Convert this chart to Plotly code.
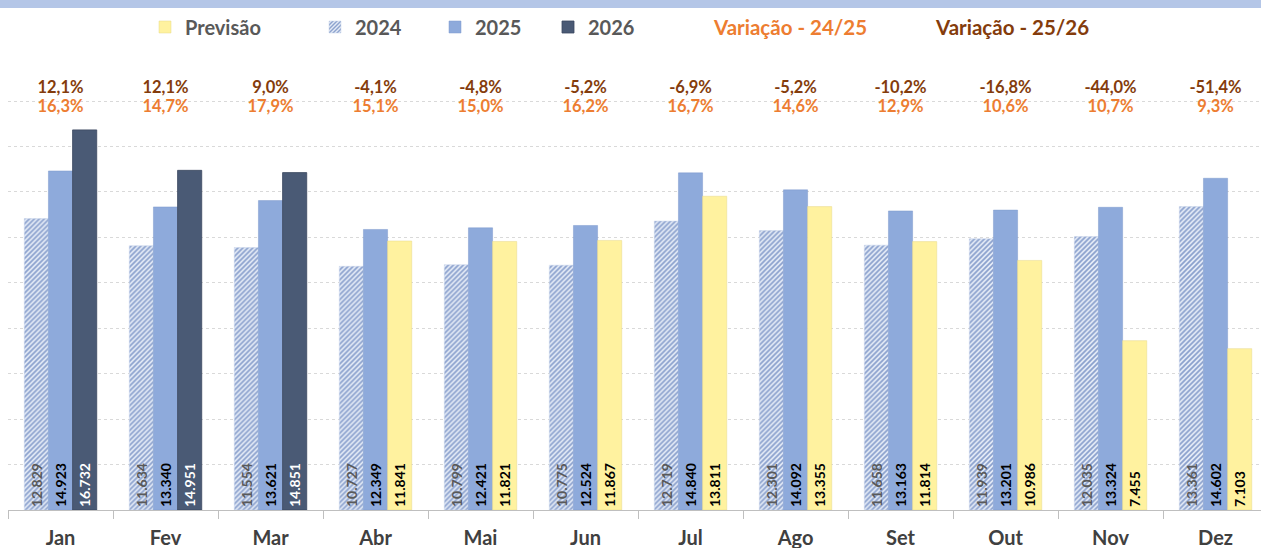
import plotly.graph_objects as go

months = ["Jan", "Fev", "Mar", "Abr", "Mai", "Jun", "Jul", "Ago", "Set", "Out", "Nov", "Dez"]
v2024 = [12829, 11634, 11554, 10727, 10799, 10775, 12719, 12301, 11658, 11939, 12035, 13361]
v2025 = [14923, 13340, 13621, 12349, 12421, 12524, 14840, 14092, 13163, 13201, 13324, 14602]
v2026 = [16732, 14951, 14851, None, None, None, None, None, None, None, None, None]
previsao = [None, None, None, 11841, 11821, 11867, 13811, 13355, 11814, 10986, 7455, 7103]
var_24_25 = ["16,3%", "14,7%", "17,9%", "15,1%", "15,0%", "16,2%", "16,7%", "14,6%", "12,9%", "10,6%", "10,7%", "9,3%"]
var_25_26 = ["12,1%", "12,1%", "9,0%", "-4,1%", "-4,8%", "-5,2%", "-6,9%", "-5,2%", "-10,2%", "-16,8%", "-44,0%", "-51,4%"]

FONT = "Lato"
ORANGE = "#ed7d31"
BROWN = "#843c0c"
GRAY = "#595959"

# plot area in pixels: x 8..1261, y 67..510
def px_x(p):
    return (p - 8) / 1253

def px_y(p):
    return (510 - p) / 443

fig = go.Figure()

lab = dict(textposition="inside", insidetextanchor="start", textangle=-90,
           texttemplate="%{y:,.0f}", cliponaxis=False)

fig.add_trace(go.Bar(
    x=months, y=v2024, name="2024", offsetgroup="a", legend="legend2",
    marker=dict(color="#dbe4f3", line=dict(color="#c9d4ea", width=0.5),
                pattern=dict(shape="/", fgcolor="#2f55a4", bgcolor="#e6ecf7", size=3.5, solidity=0.5)),
    textfont=dict(family=FONT, size=14, color=GRAY, weight=700), **lab))
fig.add_trace(go.Bar(
    x=months, y=v2025, name="2025", offsetgroup="b", legend="legend3",
    marker=dict(color="#8eaadb", line=dict(color="#7f9bcc", width=0.5)),
    textfont=dict(family=FONT, size=14, color="black", weight=700), **lab))
fig.add_trace(go.Bar(
    x=months, y=v2026, name="2026", offsetgroup="c", legend="legend4",
    marker=dict(color="#4a5a75", line=dict(color="#3b4860", width=0.8)),
    textfont=dict(family=FONT, size=14, color="white", weight=700), **lab))
fig.add_trace(go.Bar(
    x=months, y=previsao, name="Previsão", offsetgroup="c", legend="legend",
    marker=dict(color="#fff29f", line=dict(color="#e6d88a", width=0.5)),
    textfont=dict(family=FONT, size=14, color="black", weight=700), **lab))

fig.add_trace(go.Scatter(
    x=months, y=[18550] * len(months), mode="text", text=var_25_26, showlegend=False,
    textfont=dict(family=FONT, size=16.5, color=BROWN, weight=700), cliponaxis=False, hoverinfo="skip"))
fig.add_trace(go.Scatter(
    x=months, y=[17700] * len(months), mode="text", text=var_24_25, showlegend=False,
    textfont=dict(family=FONT, size=16.5, color=ORANGE, weight=700), cliponaxis=False, hoverinfo="skip"))

leg = dict(orientation="h", yanchor="middle", y=px_y(27), xanchor="left", bgcolor="rgba(0,0,0,0)",
           font=dict(family=FONT, size=20, color=GRAY, weight=700))
fig.update_layout(
    legend=dict(leg, x=px_x(145)),
    legend2=dict(leg, x=px_x(315)),
    legend3=dict(leg, x=px_x(435)),
    legend4=dict(leg, x=px_x(548)),
)

fig.add_annotation(x=px_x(711), y=px_y(27), xref="paper", yref="paper", xanchor="left", yanchor="middle",
                   text="Variação - 24/25", showarrow=False,
                   font=dict(family=FONT, size=20.5, color=ORANGE, weight=700))
fig.add_annotation(x=px_x(933), y=px_y(27), xref="paper", yref="paper", xanchor="left", yanchor="middle",
                   text="Variação - 25/26", showarrow=False,
                   font=dict(family=FONT, size=20.5, color=BROWN, weight=700))

# header band
fig.add_shape(type="rect", xref="paper", yref="paper", x0=-0.1, x1=1.1, y0=px_y(8), y1=px_y(-10),
              fillcolor="#b4c6e7", line_width=0, layer="below")

fig.update_layout(
    width=1261, height=548,
    margin=dict(l=8, r=0, t=67, b=38),
    paper_bgcolor="white", plot_bgcolor="white",
    separators=",.",
    barmode="group", bargap=0.31, bargroupgap=0,
    xaxis=dict(range=[-0.5, 11.433], tickson="boundaries", ticks="outside", ticklen=8,
               tickcolor="#bfbfbf", showline=True, linecolor="#bfbfbf", linewidth=1,
               ticklabelstandoff=10,
               tickfont=dict(family=FONT, size=20, color="#404040", weight=700)),
    yaxis=dict(range=[0, 19500], dtick=2000, showticklabels=False, showgrid=True,
               gridcolor="#d9d9d9", griddash="dot", zeroline=False),
)

fig.write_html("out.html", config={"displayModeBar": False},
               post_script="document.body.style.margin='0px';")
